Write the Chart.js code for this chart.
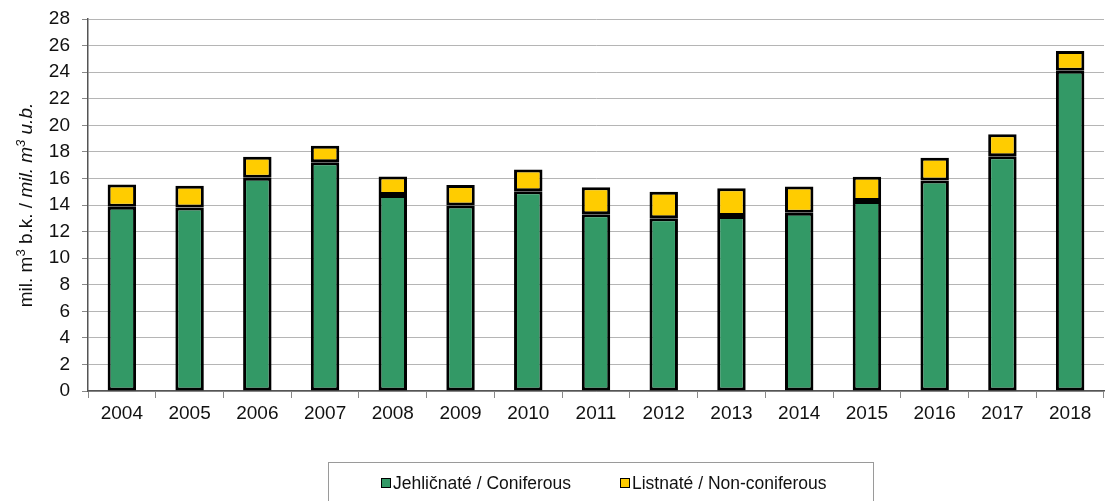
<!DOCTYPE html>
<html>
<head>
<meta charset="utf-8">
<script src="https://cdn.jsdelivr.net/npm/chart.js@4/dist/chart.umd.min.js"></script>
<style>
  html, body { margin: 0; padding: 0; background: #fff; }
  #wrap { position: relative; width: 1105px; height: 501px; overflow: hidden; }
  #legend {
    position: absolute; left: 328px; top: 462px; width: 546px; height: 60px;
    border: 1px solid #9a9a9a; box-sizing: border-box;
    font-family: "Liberation Sans", Arial, sans-serif; font-size: 17.5px; color: #111;
  }
  .item { position: absolute; top: 10px; white-space: nowrap; }
  .sw { display: inline-block; width: 8px; height: 8px; border: 1px solid #000; margin-right: 2px; vertical-align: 1px; }
</style>
</head>
<body>
<div id="wrap">
  <canvas id="c" width="1105" height="501"></canvas>
  <div id="legend"></div>
</div>
<script>
const years = ['2004','2005','2006','2007','2008','2009','2010','2011','2012','2013','2014','2015','2016','2017','2018'];
const coniferous = [13.87, 13.82, 16.05, 17.21, 14.75, 13.97, 15.03, 13.30, 13.00, 13.17, 13.42, 14.30, 15.85, 17.66, 24.10];
const totals = [15.55, 15.45, 17.63, 18.46, 16.15, 15.50, 16.68, 15.33, 15.00, 15.27, 15.40, 16.13, 17.56, 19.32, 25.60];
const nonConiferous = totals.map((t, i) => +(t - coniferous[i]).toFixed(2));
const seriesNames = ['Jehličnaté / Coniferous', 'Listnaté / Non-coniferous'];
const seriesColors = ['#339966', '#FFCC00'];
const yTitleParts = [
  { text: 'mil. m', style: 'normal' },
  { text: '3', style: 'sup' },
  { text: ' b.k. / ', style: 'normal' },
  { text: 'mil. m', style: 'italic' },
  { text: '3', style: 'supitalic' },
  { text: ' u.b.', style: 'italic' }
];

const FONT = '"Liberation Sans", Arial, sans-serif';

// HTML legend
const legend = document.getElementById('legend');
const legendLeft = [52, 291];
seriesNames.forEach((n, i) => {
  const d = document.createElement('div');
  d.className = 'item';
  d.style.left = legendLeft[i] + 'px';
  d.innerHTML = '<span class="sw" style="background:' + seriesColors[i] + '"></span>' + n;
  legend.appendChild(d);
});

const yTitlePlugin = {
  id: 'yTitle',
  afterDraw(chart) {
    const ctx = chart.ctx;
    const area = chart.chartArea;
    const fonts = {
      normal: '19px ' + FONT,
      italic: 'italic 19px ' + FONT,
      sup: '13px ' + FONT,
      supitalic: 'italic 13px ' + FONT
    };
    ctx.save();
    let total = 0;
    yTitleParts.forEach(p => { ctx.font = fonts[p.style]; total += ctx.measureText(p.text).width; });
    ctx.translate(32, (area.top + area.bottom) / 2);
    ctx.rotate(-Math.PI / 2);
    ctx.fillStyle = '#111';
    ctx.textBaseline = 'alphabetic';
    let x = -total / 2;
    yTitleParts.forEach(p => {
      ctx.font = fonts[p.style];
      const dy = (p.style === 'sup' || p.style === 'supitalic') ? -7 : 0;
      ctx.fillText(p.text, x, dy);
      x += ctx.measureText(p.text).width;
    });
    ctx.restore();
  }
};

new Chart(document.getElementById('c'), {
  type: 'bar',
  data: {
    labels: years,
    datasets: [
      { label: seriesNames[0], data: coniferous, backgroundColor: seriesColors[0], borderColor: '#000', borderWidth: 3, borderSkipped: false },
      { label: seriesNames[1], data: nonConiferous, backgroundColor: seriesColors[1], borderColor: '#000', borderWidth: 3, borderSkipped: false }
    ]
  },
  options: {
    responsive: false,
    animation: false,
    devicePixelRatio: 1,
    layout: { padding: { top: 19, right: 1, left: 0, bottom: 0 } },
    plugins: { legend: { display: false }, tooltip: { enabled: false } },
    datasets: { bar: { categoryPercentage: 1, barPercentage: 0.42 } },
    scales: {
      x: {
        stacked: true,
        afterFit(s) { s.height = 110; s.paddingLeft = 0; s.paddingRight = 0; },
        grid: { offset: true, drawOnChartArea: false, drawTicks: true, tickLength: 7, tickColor: '#888' },
        border: { color: '#555', width: 1.5 },
        ticks: { color: '#111', font: { family: FONT, size: 19 }, padding: 4 }
      },
      y: {
        stacked: true,
        min: 0, max: 28,
        afterFit(s) { s.width = 88; s.paddingTop = 0; s.paddingBottom = 0; },
        grid: { color: '#b5b5b5', lineWidth: 1, tickLength: 6, tickColor: '#888' },
        border: { color: '#555', width: 1.5 },
        ticks: { stepSize: 2, color: '#111', font: { family: FONT, size: 19 }, padding: 12 }
      }
    }
  },
  plugins: [yTitlePlugin]
});
</script>
</body>
</html>
